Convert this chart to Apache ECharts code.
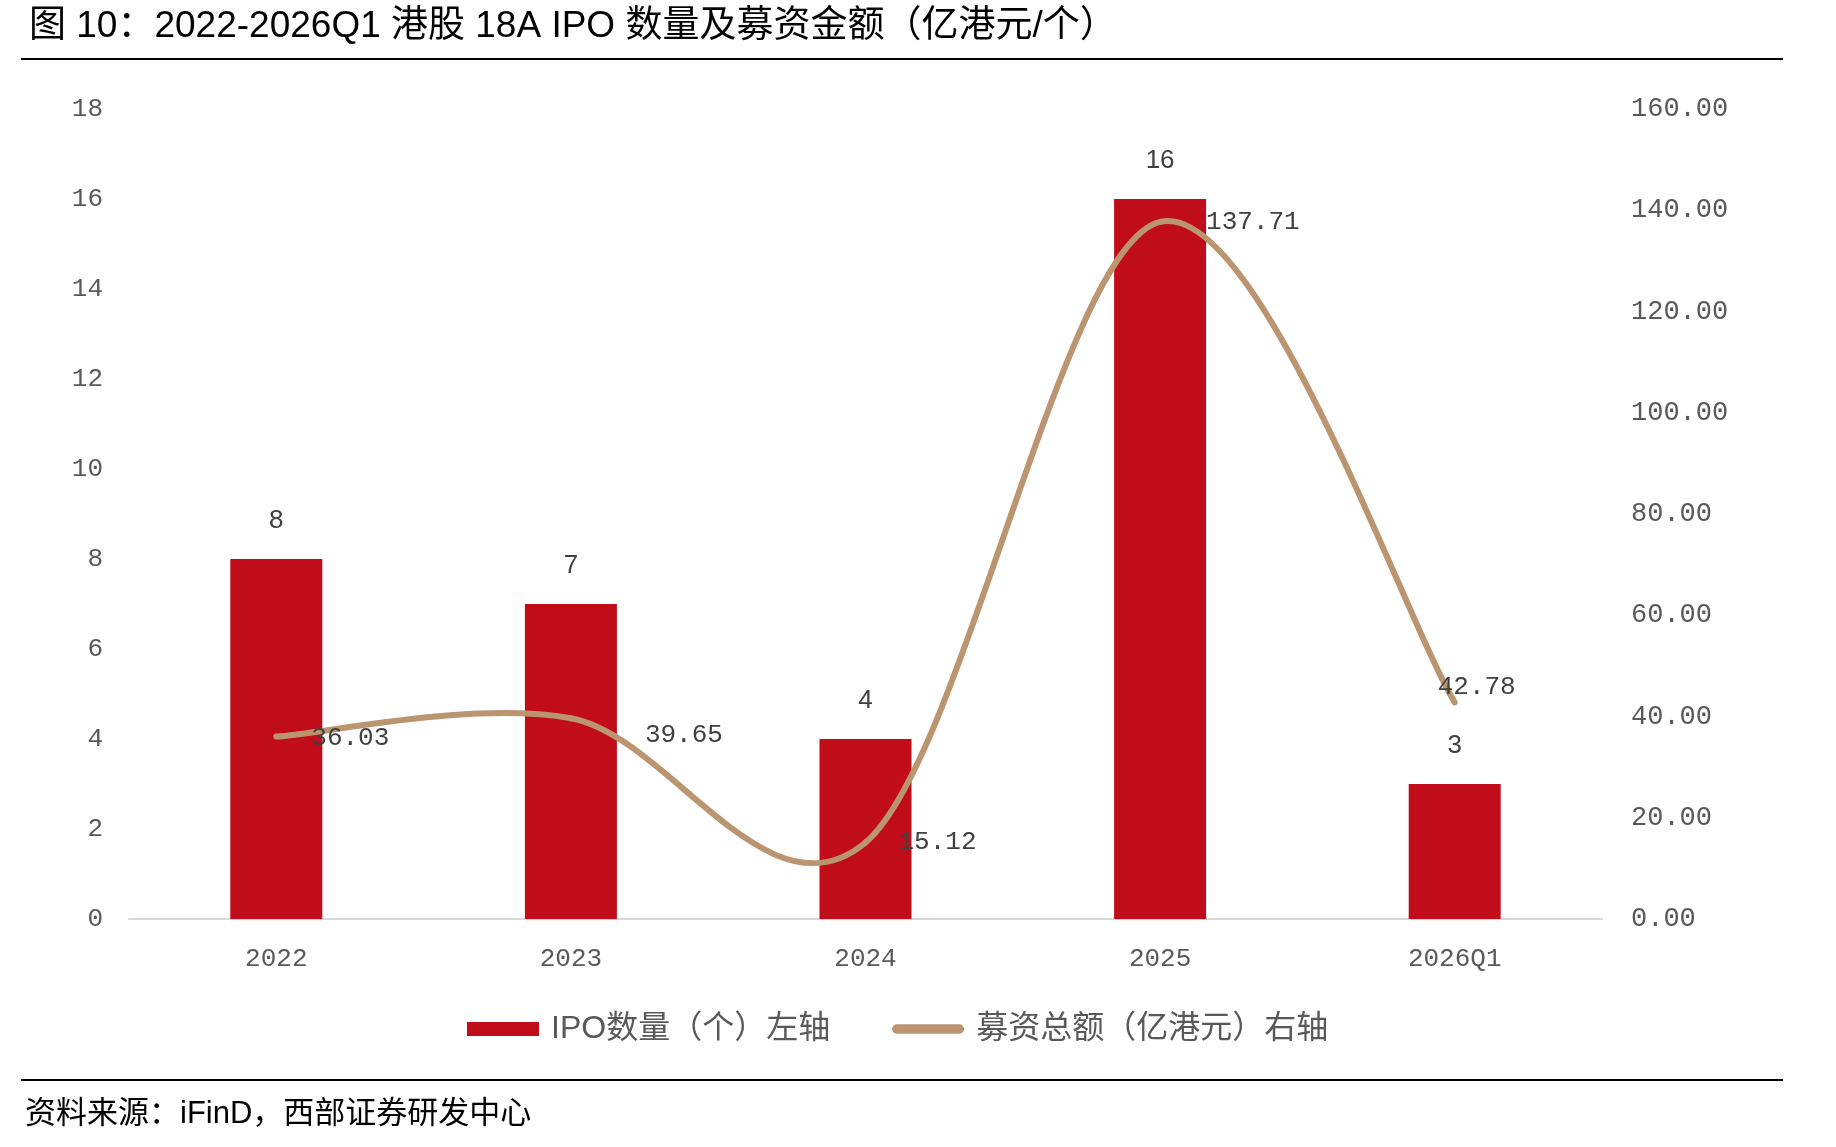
<!DOCTYPE html>
<html>
<head>
<meta charset="utf-8">
<script src="https://cdn.jsdelivr.net/npm/echarts@6/dist/echarts.min.js"></script>
<style>
  html, body { margin: 0; padding: 0; background: #fff; }
  #chart { width: 1836px; height: 1147px; }
</style>
</head>
<body>
<div id="chart"></div>
<script>
const categories = ['2022', '2023', '2024', '2025', '2026Q1']
const ipoCount = [8, 7, 4, 16, 3]
const raisedAmount = [36.03, 39.65, 15.12, 137.71, 42.78]
const countTicks = { min: 0, max: 18, interval: 2 }
const amountTicks = { min: 0, max: 160, interval: 20 }

// where each amount label sits relative to its point (styling only)
const amountLabelOffsets = [[35, 2], [74, 17], [33, 0], [46, 0], [-17, -15]]

const barColor = '#C10D1A'
const lineColor = '#BA9570'
const textGrey = '#595959'
const monoFont = '"Liberation Mono", "DejaVu Sans Mono", monospace'
const cjkFont = '"Liberation Sans", "Noto Sans CJK SC", sans-serif'

const chart = echarts.init(document.getElementById('chart'))

// Excel style smoothed line: cardinal spline through the points, drawn segment by segment
const renderAmount = (params, api) => {
  const i = params.dataIndex
  const n = raisedAmount.length
  const pt = (j) => {
    const k = Math.max(0, Math.min(n - 1, j))
    return api.coord([k, raisedAmount[k]])
  }
  const p = pt(i)
  const children = []
  if (i < n - 1) {
    const p0 = pt(i - 1)
    const p2 = pt(i + 1)
    const p3 = pt(i + 2)
    children.push({
      type: 'bezierCurve',
      shape: {
        x1: p[0], y1: p[1],
        cpx1: p[0] + (p2[0] - p0[0]) / 6, cpy1: p[1] + (p2[1] - p0[1]) / 6,
        cpx2: p2[0] - (p3[0] - p[0]) / 6, cpy2: p2[1] - (p3[1] - p[1]) / 6,
        x2: p2[0], y2: p2[1]
      },
      style: { fill: null, stroke: lineColor, lineWidth: 6, lineCap: 'round' },
      z2: 1
    })
  }
  const off = amountLabelOffsets[i]
  children.push({
    type: 'text',
    x: p[0] + off[0],
    y: p[1] + off[1],
    style: {
      text: raisedAmount[i].toFixed(2),
      font: '26px ' + monoFont,
      fill: '#404040',
      verticalAlign: 'middle',
      align: 'left'
    },
    z2: 10
  })
  return { type: 'group', children }
}

chart.setOption({
  animation: false,
  title: {
    text: '图 10：2022-2026Q1 港股 18A IPO 数量及募资金额（亿港元/个）',
    left: 24,
    top: 3,
    textStyle: { fontFamily: cjkFont, fontSize: 37, fontWeight: 'normal', color: '#000' }
  },
  graphic: [
    { type: 'rect', shape: { x: 21, y: 58, width: 1762, height: 2 }, style: { fill: '#000' } },
    { type: 'rect', shape: { x: 21, y: 1079, width: 1762, height: 2 }, style: { fill: '#000' } },
    {
      type: 'text',
      left: 25,
      top: 1099,
      style: {
        text: '资料来源：iFinD，西部证券研发中心',
        font: '31px "Liberation Sans", "Noto Sans CJK SC", sans-serif',
        fill: '#000'
      }
    }
  ],
  legend: {
    left: 462,
    top: 1008,
    itemWidth: 72,
    itemHeight: 14,
    itemGap: 62,
    textStyle: { fontFamily: cjkFont, fontSize: 32, color: textGrey, padding: [0, 0, 0, 7] },
    data: [
      { name: 'IPO数量（个）左轴', icon: 'rect' },
      { name: '募资总额（亿港元）右轴', icon: 'path://M5,0 H71 A5,5 0 0 1 71,10 H5 A5,5 0 0 1 5,0 Z' }
    ]
  },
  grid: { left: 129, right: 234, top: 109, bottom: 228, containLabel: false },
  xAxis: {
    type: 'category',
    data: categories,
    axisTick: { show: false },
    axisLine: { lineStyle: { color: '#D9D9D9', width: 2 } },
    axisLabel: { fontFamily: monoFont, fontSize: 26, color: textGrey, margin: 27 }
  },
  yAxis: [
    {
      type: 'value',
      min: countTicks.min,
      max: countTicks.max,
      interval: countTicks.interval,
      splitLine: { show: false },
      axisLine: { show: false },
      axisTick: { show: false },
      axisLabel: { fontFamily: monoFont, fontSize: 26, color: textGrey, margin: 26 }
    },
    {
      type: 'value',
      min: amountTicks.min,
      max: amountTicks.max,
      interval: amountTicks.interval,
      alignTicks: false,
      splitLine: { show: false },
      axisLine: { show: false },
      axisTick: { show: false },
      axisLabel: {
        fontFamily: monoFont,
        fontSize: 27,
        color: textGrey,
        margin: 29,
        formatter: (v) => v.toFixed(2)
      }
    }
  ],
  series: [
    {
      name: 'IPO数量（个）左轴',
      type: 'bar',
      yAxisIndex: 0,
      data: ipoCount,
      barWidth: 92,
      itemStyle: { color: barColor },
      label: {
        show: true,
        position: 'top',
        distance: 25,
        fontFamily: cjkFont,
        fontSize: 26,
        color: '#404040'
      }
    },
    {
      name: '募资总额（亿港元）右轴',
      type: 'custom',
      yAxisIndex: 1,
      itemStyle: { color: lineColor },
      data: raisedAmount.map((v, i) => [i, v]),
      encode: { x: 0, y: 1 },
      renderItem: renderAmount,
      z: 3
    }
  ]
})
</script>
</body>
</html>
